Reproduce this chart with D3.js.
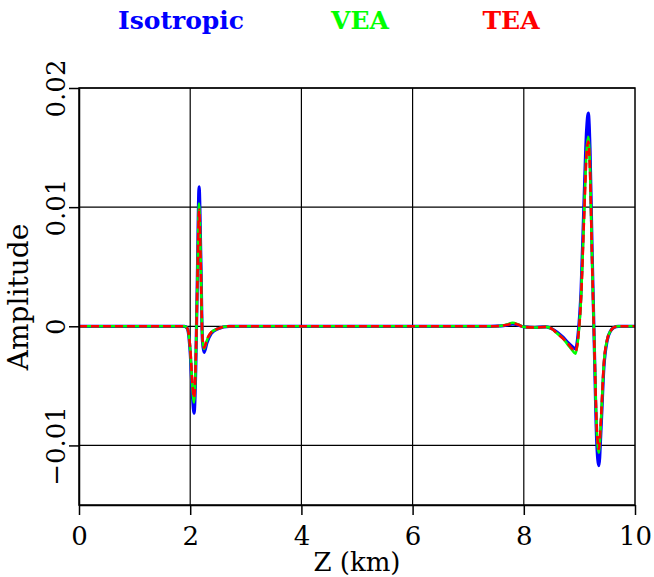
<!DOCTYPE html>
<html>
<head>
<meta charset="utf-8">
<script src="https://cdn.jsdelivr.net/npm/d3@7"></script>
<style>
  body { margin: 0; background: #fff; }
  svg { display: block; }
  text { font-family: "DejaVu Serif", serif; }
</style>
</head>
<body>
<svg id="chart"></svg>
<script>
// depth samples (km), shared by all three traces
const depth = [0, 1.5, 1.9, 1.95, 2.0, 2.04, 2.07, 2.1, 2.13, 2.16, 2.19, 2.22, 2.25, 2.3, 2.38, 2.5, 2.7,
  3.0, 3.5, 4.0, 4.5, 5.0, 5.5, 6.0, 6.5, 7.0, 7.4, 7.6, 7.7, 7.8, 7.9, 8.0, 8.2, 8.4, 8.5, 8.6, 8.7,
  8.8, 8.87, 8.93, 8.98, 9.03, 9.08, 9.13, 9.16, 9.19, 9.23, 9.27, 9.31, 9.35, 9.39, 9.44, 9.5, 9.56,
  9.62, 9.7, 10];

const isotropic = [0, 0, 0, -0.0002, -0.0022, -0.0058, -0.0073, -0.0035, 0.0045, 0.0117, 0.0060, -0.0012, -0.0022, -0.0014, -0.0006, -0.0002, 0,
  0, 0, 0, 0, 0, 0, 0, 0, 0, 0, 0.00003, 0.0001, 0.0002, 0.0001, -0.00005, -0.0001, -0.00005, -0.0002, -0.0005, -0.0009,
  -0.0014, -0.0017, -0.0019, -0.0005, 0.0030, 0.0100, 0.0165, 0.0179, 0.0150, 0.0060, -0.0020, -0.0095, -0.0117, -0.0085, -0.0035, -0.0012, -0.0004,
  -0.0001, 0, 0];

const vea = [0, 0, 0, -0.0002, -0.0020, -0.0052, -0.0064, -0.0030, 0.0040, 0.0103, 0.0053, -0.0011, -0.0019, -0.0012, -0.0005, -0.0002, 0,
  0, 0, 0, 0, 0, 0, 0, 0, 0, 0, 0.00005, 0.00015, 0.0003, 0.00015, -0.00005, -0.0001, -0.00005, -0.0002, -0.0006, -0.0010,
  -0.0016, -0.0020, -0.0023, -0.0009, 0.0024, 0.0088, 0.0148, 0.0159, 0.0135, 0.0053, -0.0018, -0.0085, -0.0106, -0.0078, -0.0032, -0.0011, -0.0004,
  -0.0001, 0, 0];

const tea = [0, 0, 0, -0.0002, -0.0018, -0.0048, -0.0060, -0.0028, 0.0038, 0.0098, 0.0050, -0.0010, -0.0018, -0.0011, -0.0005, -0.0002, 0,
  0, 0, 0, 0, 0, 0, 0, 0, 0, 0, 0.00004, 0.00012, 0.00025, 0.00012, -0.00005, -0.0001, -0.00005, -0.0002, -0.0006, -0.0010,
  -0.0015, -0.0019, -0.0021, -0.0008, 0.0024, 0.0086, 0.0145, 0.0155, 0.0132, 0.0052, -0.0018, -0.0082, -0.0103, -0.0076, -0.0031, -0.0011, -0.0004,
  -0.0001, 0, 0];

const seriesNames = ["Isotropic", "VEA", "TEA"];
const xTicks = [0, 2, 4, 6, 8, 10];
const yTicks = [-0.01, 0, 0.01, 0.02];
const yTickLabels = ["\u22120.01", "0", "0.01", "0.02"];

const width = 654, height = 577;
const margin = { top: 88, right: 19, bottom: 72, left: 79 };
const innerW = width - margin.left - margin.right;
const innerH = height - margin.top - margin.bottom;

const svg = d3.select("#chart").attr("width", width).attr("height", height);
const g = svg.append("g").attr("transform", `translate(${margin.left},${margin.top})`);

const x = d3.scaleLinear().domain([0, 10]).range([0, innerW]);
const y = d3.scaleLinear().domain([-0.015, 0.02]).range([innerH, 0]);

// grid lines
g.selectAll(".vgrid").data(xTicks.slice(1, -1)).join("line")
  .attr("x1", d => x(d)).attr("x2", d => x(d))
  .attr("y1", 0).attr("y2", innerH)
  .attr("stroke", "#000").attr("stroke-width", 1.2);
g.selectAll(".hgrid").data(yTicks).join("line")
  .attr("x1", 0).attr("x2", innerW)
  .attr("y1", d => y(d)).attr("y2", d => y(d))
  .attr("stroke", "#000").attr("stroke-width", 1.2);

// traces
const colors = ["#0000ff", "#00ff00", "#ff0000"];
const traces = [isotropic, vea, tea];
const line = d3.line().x(d => x(d[0])).y(d => y(d[1])).curve(d3.curveMonotoneX);

traces.forEach((vals, i) => {
  g.append("path")
    .datum(depth.map((z, k) => [z, vals[k]]))
    .attr("fill", "none")
    .attr("stroke", colors[i])
    .attr("stroke-width", i === 0 ? 3.2 : 2.6)
    .attr("stroke-dasharray", i === 2 ? "8,4" : null)
    .attr("stroke-linejoin", "round")
    .attr("d", line);
});

// frame
g.append("rect").attr("width", innerW).attr("height", innerH)
  .attr("fill", "none").attr("stroke", "#000").attr("stroke-width", 1.5);

// axes
const xAxis = g.append("g").attr("transform", `translate(0,${innerH})`)
  .call(d3.axisBottom(x).tickValues(xTicks).tickSize(10).tickSizeOuter(0));
const yAxis = g.append("g")
  .call(d3.axisLeft(y).tickValues(yTicks).tickSize(10).tickSizeOuter(0)
    .tickFormat((d, i) => yTickLabels[i]));

[xAxis, yAxis].forEach(a => {
  a.select(".domain").attr("stroke", "#000").attr("stroke-width", 1.5);
  a.selectAll(".tick line").attr("stroke", "#000").attr("stroke-width", 1.5);
  a.selectAll("text").attr("fill", "#000").style("font-size", "26px")
    .style("font-family", "'DejaVu Serif', serif");
});
xAxis.selectAll("text").attr("dy", null).attr("y", 40);
yAxis.selectAll("text")
  .attr("x", null).attr("dy", null)
  .attr("text-anchor", "middle")
  .attr("transform", "translate(-14,0) rotate(-90)");

// axis titles
svg.append("text")
  .attr("x", margin.left + innerW / 2).attr("y", 571)
  .attr("text-anchor", "middle").style("font-size", "26px")
  .text("Z (km)");
svg.append("text")
  .attr("transform", `translate(28,297) rotate(-90)`)
  .attr("text-anchor", "middle").style("font-size", "28px")
  .text("Amplitude");

// legend
const legendX = [181, 360, 511];
svg.selectAll(".legend").data(seriesNames).join("text")
  .attr("x", (d, i) => legendX[i]).attr("y", 29)
  .attr("text-anchor", "middle")
  .attr("fill", (d, i) => colors[i])
  .style("font-size", "25px").style("font-weight", "bold")
  .text(d => d);
</script>
</body>
</html>
